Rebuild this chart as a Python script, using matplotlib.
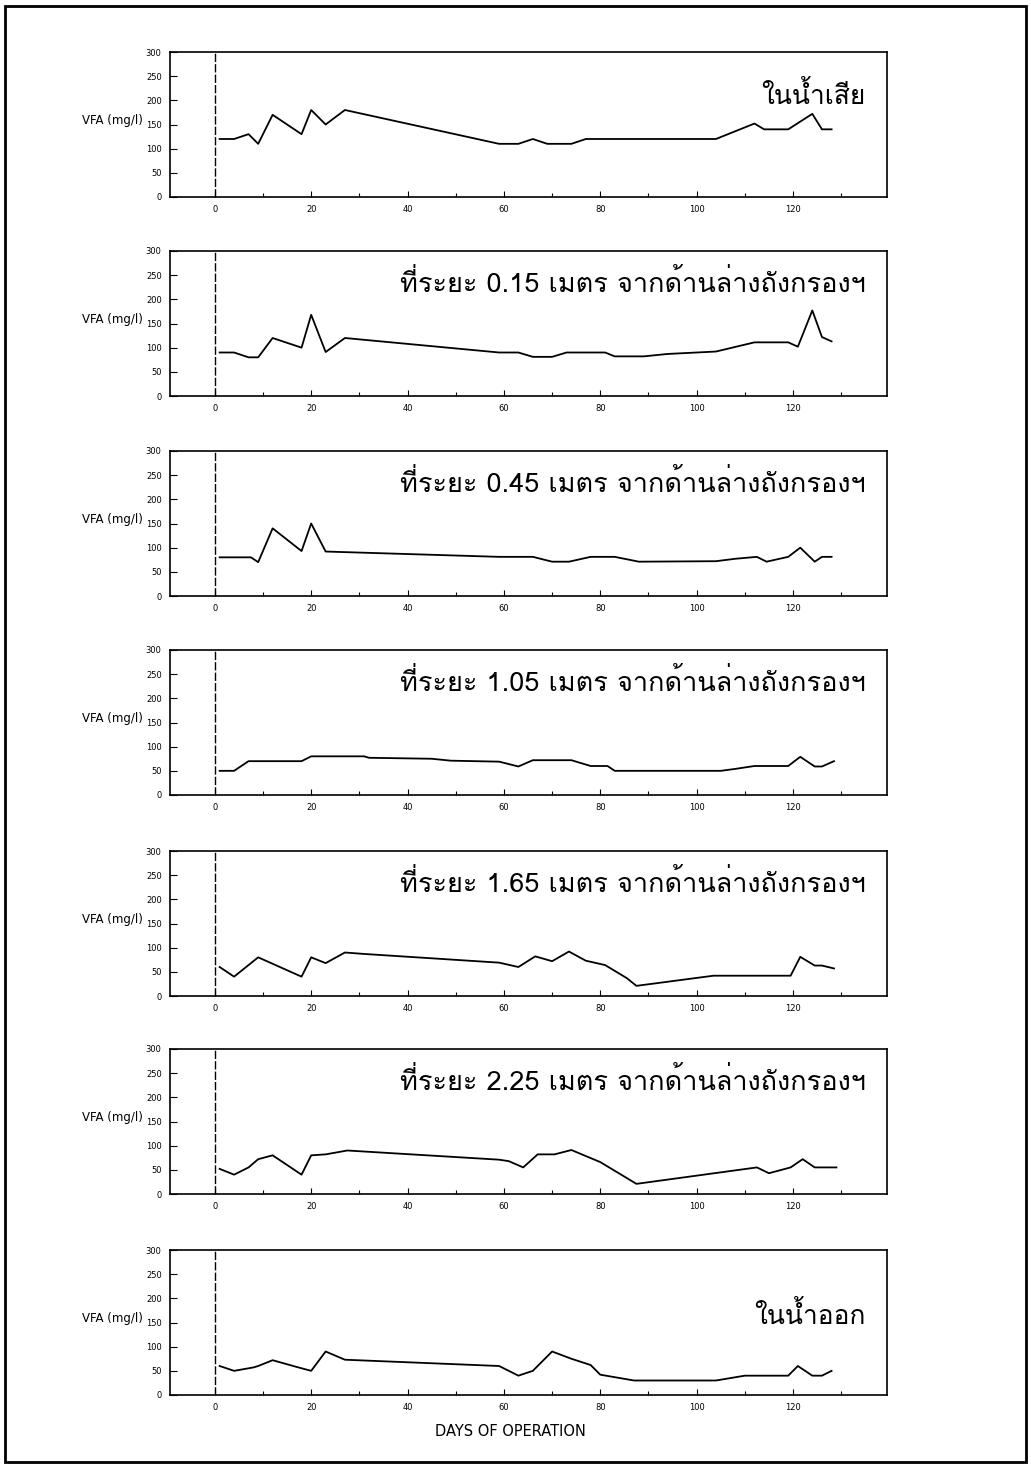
import matplotlib.pyplot as plt
from matplotlib.patches import Rectangle

# VFA readings for each sampling point (day of operation, mg/l)
days_p1 = [1, 4, 7, 9, 12, 18, 20, 23, 27, 59, 63, 66, 69, 74, 77, 104, 112, 114, 119, 124, 126, 128]
vfa_p1 = [120, 120, 130, 110, 170, 130, 180, 150, 180, 110, 110, 120, 110, 110, 120, 120, 152, 140, 140, 172, 140, 140]

days_p2 = [1, 4, 7, 9, 12, 18, 20, 23, 27, 59, 63, 66, 70, 73, 81, 83, 89, 94, 104, 112, 119, 121, 124, 126, 128]
vfa_p2 = [90, 90, 80, 80, 120, 100, 168, 91, 120, 90, 90, 81, 81, 90, 90, 82, 82, 87, 92, 111, 111, 102, 177, 122, 113]

days_p3 = [1, 7.5, 9, 12, 18, 20, 23, 59, 66, 70, 73.5, 78, 83, 88, 104, 108, 112.5, 114.5, 119, 121.5, 124.5, 126, 128]
vfa_p3 = [80, 80, 70, 140, 93, 150, 92, 81, 81, 71, 71, 81, 81, 71, 72, 77, 81, 71, 81, 100, 71, 81, 81]

days_p4 = [1, 4, 7, 18, 20, 31, 32, 45, 49, 59, 63, 66, 74, 78, 81.5, 83, 105, 108, 112, 119, 121.5, 124.5, 126, 128.5]
vfa_p4 = [50, 50, 70, 70, 80, 80, 77, 75, 71, 69, 59, 72, 72, 60, 60, 50, 50, 54, 60, 60, 79, 59, 59, 70]

days_p5 = [1, 4, 9, 18, 20, 23, 27, 31, 59, 63, 66.5, 70, 73.5, 77, 81, 83, 85.5, 87.5, 103.5, 119.5, 121.5, 124.5, 126, 128.5]
vfa_p5 = [60, 40, 80, 40, 80, 68, 90, 87, 69, 60, 82, 72, 92, 73, 64, 52, 37, 21, 42, 42, 81, 63, 63, 57]

days_p6 = [1, 4, 7, 9, 12, 18, 20, 23, 27.5, 59, 61, 64, 67, 70.5, 74, 80, 87.5, 112.5, 115, 119.5, 122, 124.5, 129]
vfa_p6 = [52, 40, 55, 72, 80, 40, 80, 82, 90, 71, 68, 55, 82, 82, 91, 66, 21, 55, 43, 55, 72, 55, 55]

days_p7 = [1, 4, 8, 9, 12, 17, 20, 23, 27, 59, 63, 66, 70, 74, 78, 80, 87, 104, 110, 119, 121, 124, 126, 128]
vfa_p7 = [60, 50, 57, 60, 72, 58, 50, 90, 73, 60, 40, 50, 90, 75, 62, 42, 30, 30, 40, 40, 60, 40, 40, 50]

titles = [
    "ในน้ำเสีย",
    "ที่ระยะ 0.15 เมตร จากด้านล่างถังกรองฯ",
    "ที่ระยะ 0.45 เมตร จากด้านล่างถังกรองฯ",
    "ที่ระยะ 1.05 เมตร จากด้านล่างถังกรองฯ",
    "ที่ระยะ 1.65 เมตร จากด้านล่างถังกรองฯ",
    "ที่ระยะ 2.25 เมตร จากด้านล่างถังกรองฯ",
    "ในน้ำออก",
]
x_ticks = [0, 20, 40, 60, 80, 100, 120]
y_ticks = [0, 50, 100, 150, 200, 250, 300]

series = [(days_p1, vfa_p1), (days_p2, vfa_p2), (days_p3, vfa_p3), (days_p4, vfa_p4),
          (days_p5, vfa_p5), (days_p6, vfa_p6), (days_p7, vfa_p7)]

thai = ["Loma", "DejaVu Sans"]

W, H = 1031, 1468
fig = plt.figure(figsize=(W / 100, H / 100), dpi=100)
fig.patch.set_facecolor("white")

left_px, right_px = 170, 887
tops = [52, 251, 451, 650, 851, 1049, 1250]
height_px = 145
title_y = [0.70, 0.78, 0.78, 0.78, 0.78, 0.78, 0.55]

for i, (d, v) in enumerate(series):
    ax = fig.add_axes([left_px / W, 1 - (tops[i] + height_px) / H,
                       (right_px - left_px) / W, height_px / H])
    ax.plot(d, v, color="black", lw=1.3)
    ax.axvline(0, color="black", lw=1.0, ls=(0, (6, 1.5)))
    ax.set_xlim(-9.3, 139.5)
    ax.set_ylim(0, 300)
    ax.set_xticks(x_ticks)
    ax.set_xticks(range(10, 140, 20), minor=True)
    ax.set_yticks(y_ticks)
    ax.tick_params(axis="both", which="both", direction="in", labelsize=6,
                   width=0.8, color="black")
    ax.tick_params(axis="x", which="major", length=4, pad=6)
    ax.tick_params(axis="x", which="minor", length=3)
    ax.tick_params(axis="y", length=5, pad=6)
    for s in ax.spines.values():
        s.set_linewidth(1.2)
    ax.text(-0.038, 158, "VFA (mg/l)", transform=ax.get_yaxis_transform(),
            ha="right", va="center", fontsize=8.5)
    size = 19 if i in (0, 6) else 19.5
    ax.text(0.97, title_y[i], titles[i], transform=ax.transAxes, ha="right",
            va="center", fontsize=size, family=thai)

fig.text(510 / W, 1 - 1432 / H, "DAYS OF OPERATION", ha="center", va="center",
         fontsize=10.5)

# page frame
fig.add_artist(Rectangle((5 / W, 6 / H), 1021 / W, 1456 / H, transform=fig.transFigure,
                         fill=False, lw=2, color="black"))

fig.savefig("out.png", dpi=100)
